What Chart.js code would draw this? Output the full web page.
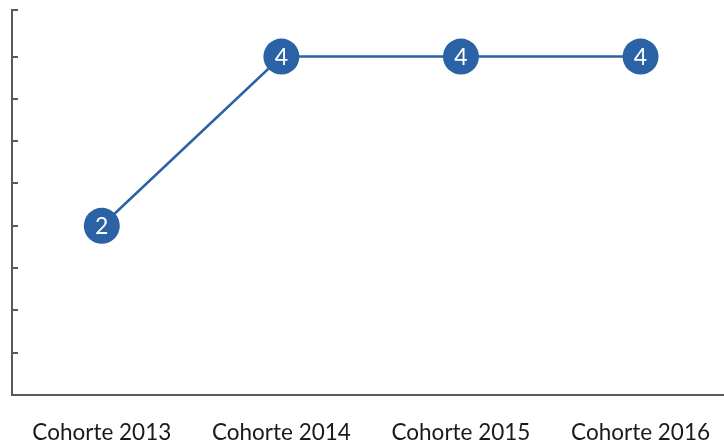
<!DOCTYPE html>
<html>
<head>
<meta charset="utf-8">
<script src="https://cdn.jsdelivr.net/npm/chart.js@4.4.0/dist/chart.umd.min.js"></script>
<style>
  html, body { margin: 0; padding: 0; background: #fff; overflow: hidden; }
  #wrap { width: 734px; height: 442px; }
</style>
</head>
<body>
<div id="wrap"><canvas id="chart"></canvas></div>
<script>
const categories = ['Cohorte 2013', 'Cohorte 2014', 'Cohorte 2015', 'Cohorte 2016'];
const values = [2, 4, 4, 4];
const yTicks = [0, 0.5, 1, 1.5, 2, 2.5, 3, 3.5, 4, 4.55];
const yMax = 4.55;

const blue = '#2b62a5';
const axisGray = '#5a5a5a';
const fontFamily = 'Lato, "Open Sans", sans-serif';

// short tick marks drawn on the inside of the y axis
const innerTicks = {
    id: 'innerTicks',
    afterDraw(chart) {
        const { ctx, scales: { y } } = chart;
        const x0 = y.right;
        ctx.save();
        ctx.strokeStyle = axisGray;
        ctx.lineWidth = 2;
        yTicks.forEach(v => {
            const py = Math.round(y.getPixelForValue(v));
            ctx.beginPath();
            ctx.moveTo(x0 - 1, py);
            ctx.lineTo(x0 + 6, py);
            ctx.stroke();
        });
        ctx.restore();
    }
};

// value labels inside the markers
const pointLabels = {
    id: 'pointLabels',
    afterDatasetsDraw(chart) {
        const { ctx } = chart;
        const meta = chart.getDatasetMeta(0);
        ctx.save();
        ctx.fillStyle = '#fff';
        ctx.font = '23px ' + fontFamily;
        ctx.textAlign = 'center';
        ctx.textBaseline = 'middle';
        meta.data.forEach((pt, i) => {
            ctx.fillText(String(values[i]), pt.x, pt.y + 1);
        });
        ctx.restore();
    }
};

new Chart(document.getElementById('chart'), {
    type: 'line',
    data: {
        labels: categories,
        datasets: [{
            data: values,
            borderColor: blue,
            borderWidth: 2.5,
            backgroundColor: blue,
            pointBackgroundColor: blue,
            pointBorderWidth: 0,
            pointRadius: 18,
            pointHoverRadius: 18,
            tension: 0
        }]
    },
    options: {
        responsive: true,
        maintainAspectRatio: false,
        animation: false,
        layout: { autoPadding: false, padding: { top: 10, right: 0, bottom: 0, left: 0 } },
        plugins: { legend: { display: false }, tooltip: { enabled: false } },
        scales: {
            x: {
                offset: true,
                grid: { display: false, drawTicks: false },
                border: { display: true, color: axisGray, width: 2 },
                ticks: { color: '#1a1a1a', font: { family: fontFamily, size: 22.5 }, padding: 24 },
                afterFit: s => { s.height = 47; }
            },
            y: {
                min: 0,
                max: yMax,
                afterBuildTicks: s => { s.ticks = yTicks.map(v => ({ value: v })); },
                grid: { display: false, drawTicks: false },
                border: { display: true, color: axisGray, width: 2 },
                ticks: { display: false },
                afterFit: s => { s.width = 12; }
            }
        }
    },
    plugins: [innerTicks, pointLabels]
});
</script>
</body>
</html>
